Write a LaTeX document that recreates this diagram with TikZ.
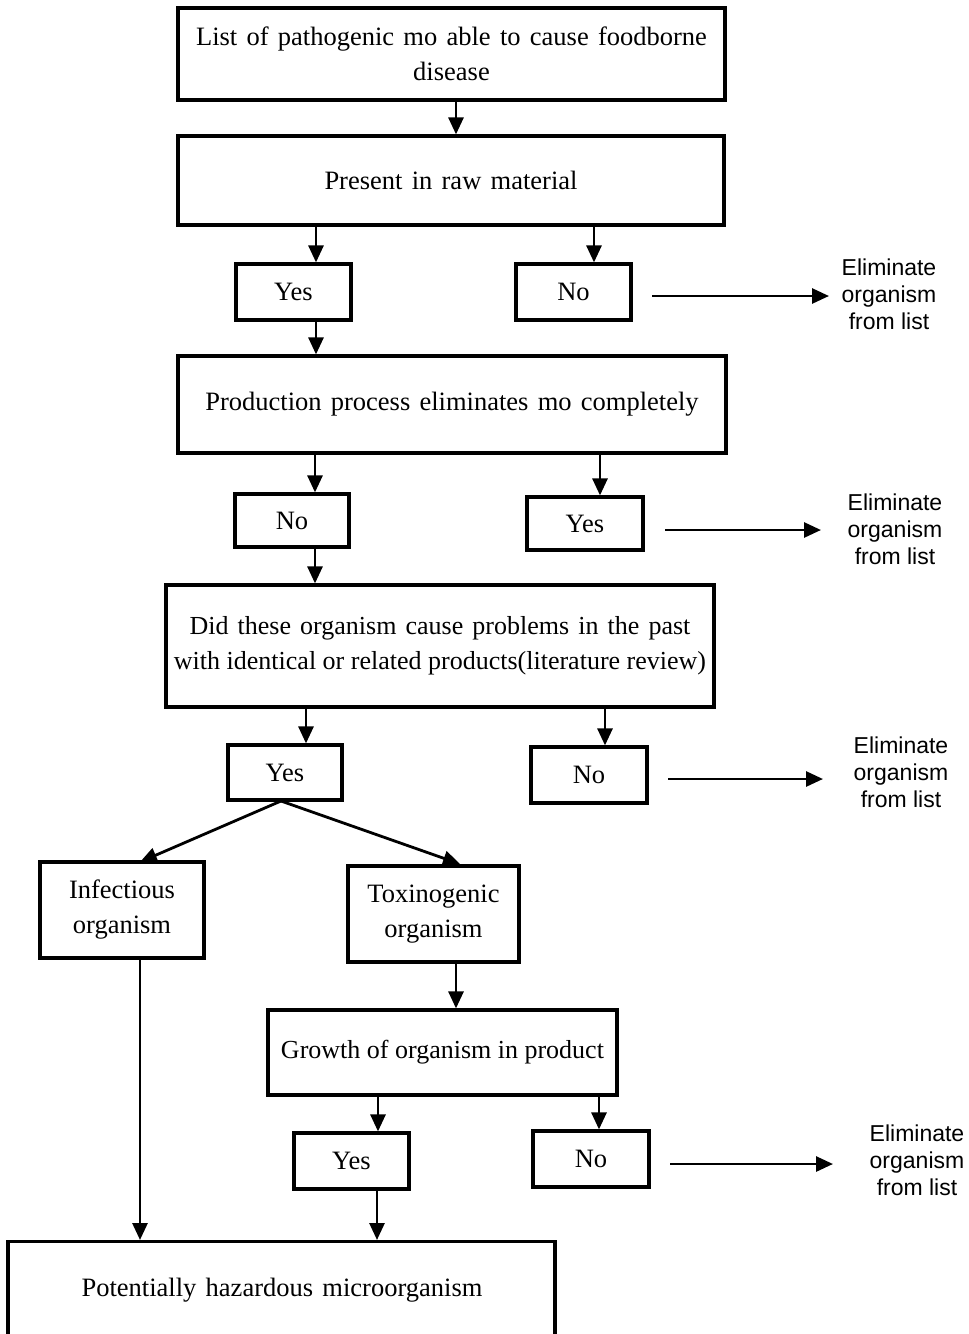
\documentclass[tikz,border=0pt]{standalone}
\usepackage{fontspec}
\setmainfont[WordSpace=1.4]{Liberation Serif}
\newfontfamily\tightfont[WordSpace=1.0]{Liberation Serif}
\newfontfamily\elimfont{Liberation Sans}
\usetikzlibrary{arrows.meta}

\tikzset{
  box/.style={draw, line width=3.2pt, inner sep=0pt, align=center,
    font=\fontsize{26.5}{35}\selectfont},
  tightbox/.style={box, font=\tightfont\fontsize{26}{35}\selectfont},
  answer/.style={box},
  elim/.style={inner sep=0pt, align=center,
    font=\elimfont\fontsize{23}{27}\selectfont},
  arr/.style={line width=2.8pt, -{Triangle[length=17pt,width=15pt]}},
}

\begin{document}
\begin{tikzpicture}[x=1pt, y=-1pt]
\useasboundingbox (0,0) rectangle (969,1334);
\clip (0,0) rectangle (969,1334);

% main decision boxes
\node[box, minimum width=547pt, minimum height=92pt] (list) at (451.5,54)
  {List of pathogenic mo able to cause foodborne\\disease};
\node[box, minimum width=546pt, minimum height=89pt] (raw) at (451,180.5)
  {Present in raw material};
\node[box, minimum width=548pt, minimum height=97pt] (proc) at (452,404.5)
  {Production process eliminates mo completely};
\node[tightbox, minimum width=548pt, minimum height=122pt] (past) at (440,646)
  {{\rmfamily Did these organism cause problems in the past}\\with identical or related products(literature review)};
\node[box, minimum width=164pt, minimum height=96pt] (inf) at (122,910)
  {Infectious\\organism};
\node[box, minimum width=171pt, minimum height=96pt] (tox) at (433.5,914)
  {Toxinogenic\\organism};
\node[tightbox, minimum width=349pt, minimum height=85pt] (grow) at (442.5,1052.5)
  {Growth of organism in product};
\node[box, minimum width=547pt, minimum height=140pt, anchor=north] (haz) at (281.5,1240)
  {};
\node[font=\fontsize{26.5}{35}\selectfont] (hazt) at (282,1290)
  {Potentially hazardous microorganism};

% answer boxes
\node[answer, minimum width=115pt, minimum height=56pt] (y1) at (293.5,292) {Yes};
\node[answer, minimum width=115pt, minimum height=56pt] (n1) at (573.5,292) {No};
\node[answer, minimum width=114pt, minimum height=53pt] (n2) at (292,520.5) {No};
\node[answer, minimum width=116pt, minimum height=53pt] (y2) at (585,523.5) {Yes};
\node[answer, minimum width=114pt, minimum height=55pt] (y3) at (285,772.5) {Yes};
\node[answer, minimum width=116pt, minimum height=56pt] (n3) at (589,775) {No};
\node[answer, minimum width=115pt, minimum height=56pt] (y4) at (351.5,1161) {Yes};
\node[answer, minimum width=116pt, minimum height=56pt] (n4) at (591,1159) {No};

% elimination notes
\node[elim] (e1) at (889,294) {Eliminate\\organism\\from list};
\node[elim] (e2) at (895,529) {Eliminate\\organism\\from list};
\node[elim] (e3) at (901,772) {Eliminate\\organism\\from list};
\node[elim] (e4) at (917,1160) {Eliminate\\organism\\from list};

% x positions of the vertical connectors
\coordinate (xa) at (456,0);
\coordinate (xb) at (316,0);
\coordinate (xc) at (594,0);
\coordinate (xd) at (315,0);
\coordinate (xe) at (600,0);
\coordinate (xf) at (306,0);
\coordinate (xg) at (605,0);
\coordinate (xh) at (140,0);
\coordinate (xi) at (456,0);
\coordinate (xj) at (378,0);
\coordinate (xk) at (599,0);
\coordinate (xl) at (377,0);
\coordinate (apex) at (281,801);
\coordinate (tipl) at (140,862);
\coordinate (tipr) at (460,864);

% start and end points of the elimination arrows
\coordinate (s1) at (652,296);  \coordinate (t1) at (829,296);
\coordinate (s2) at (665,530);  \coordinate (t2) at (821,530);
\coordinate (s3) at (668,779);  \coordinate (t3) at (823,779);
\coordinate (s4) at (670,1164); \coordinate (t4) at (833,1164);

% connectors
\draw[arr] (list.south -| xa) -- (raw.north -| xa);
\draw[arr] (raw.south -| xb) -- (y1.north -| xb);
\draw[arr] (raw.south -| xc) -- (n1.north -| xc);
\draw[arr] (y1.south -| xb) -- (proc.north -| xb);
\draw[arr] (proc.south -| xd) -- (n2.north -| xd);
\draw[arr] (proc.south -| xe) -- (y2.north -| xe);
\draw[arr] (n2.south -| xd) -- (past.north -| xd);
\draw[arr] (past.south -| xf) -- (y3.north -| xf);
\draw[arr] (past.south -| xg) -- (n3.north -| xg);
\draw[arr] (apex) -- (tipl);
\draw[arr] (apex) -- (tipr);
\draw[arr] (inf.south -| xh) -- (haz.north -| xh);
\draw[arr] (tox.south -| xi) -- (grow.north -| xi);
\draw[arr] (grow.south -| xj) -- (y4.north -| xj);
\draw[arr] (grow.south -| xk) -- (n4.north -| xk);
\draw[arr] (y4.south -| xl) -- (haz.north -| xl);

% elimination arrows
\draw[arr] (s1) -- (t1);
\draw[arr] (s2) -- (t2);
\draw[arr] (s3) -- (t3);
\draw[arr] (s4) -- (t4);
\end{tikzpicture}
\end{document}
